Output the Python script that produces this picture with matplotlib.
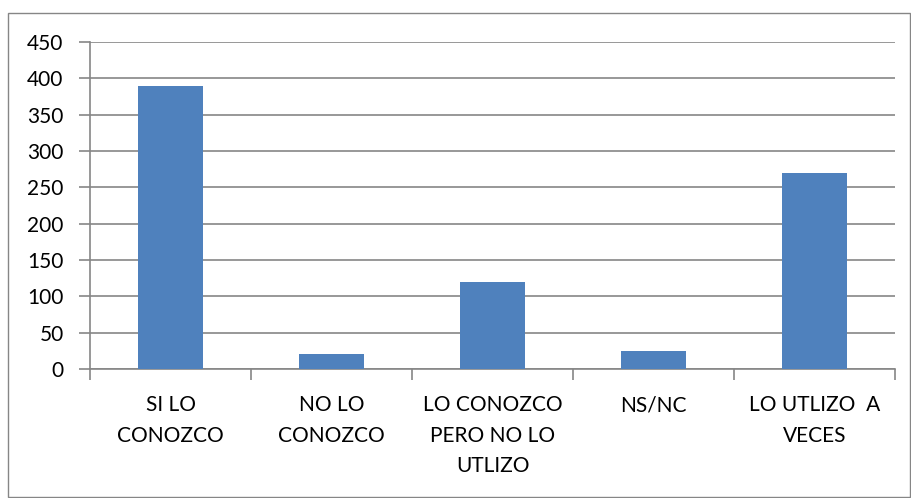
import matplotlib.pyplot as plt
from matplotlib.patches import Rectangle

categories = ['SI LO\nCONOZCO', 'NO LO\nCONOZCO', 'LO CONOZCO\nPERO NO LO\nUTLIZO', 'NS/NC', 'LO UTLIZO  A\nVECES']
values = [390, 20, 120, 25, 270]
yticks = [0, 50, 100, 150, 200, 250, 300, 350, 400, 450]

plt.rcParams['font.family'] = ['Lato', 'DejaVu Sans']

fig = plt.figure(figsize=(9.12, 4.98), dpi=100)
ax = fig.add_axes([90/912, 1-369/498, 805/912, 327/498])

fig.patches.append(Rectangle((8/912, 1/498), 902/912, 484/498, transform=fig.transFigure,
                             fill=False, edgecolor='#868686', linewidth=1))

x = list(range(len(categories)))
ax.bar(x, values, width=0.4, color='#4F81BD', zorder=3)

ax.set_xlim(-0.5, len(categories) - 0.5)
ax.set_ylim(0, 450)
ax.set_yticks(yticks)
ax.set_yticklabels([str(v) for v in yticks], fontsize=15)
ax.yaxis.grid(True, color='#868686', linewidth=1.2, zorder=0)

ax.set_xticks([i - 0.5 for i in range(len(categories) + 1)])
ax.set_xticklabels([])
ax.set_xticks(x, minor=True)
ax.set_xticklabels(categories, minor=True, fontsize=15, linespacing=1.65, va='top')
ax.tick_params(axis='x', which='minor', length=0, pad=19)
ax.tick_params(axis='x', which='major', length=8, color='#868686', width=1.2, direction='out')
ax.tick_params(axis='y', length=8, color='#868686', width=1.2, direction='out', pad=11)

for side in ['top', 'right']:
    ax.spines[side].set_visible(False)
for side in ['left', 'bottom']:
    ax.spines[side].set_color('#868686')
    ax.spines[side].set_linewidth(1.2)

fig.savefig('out.png', dpi=100)
